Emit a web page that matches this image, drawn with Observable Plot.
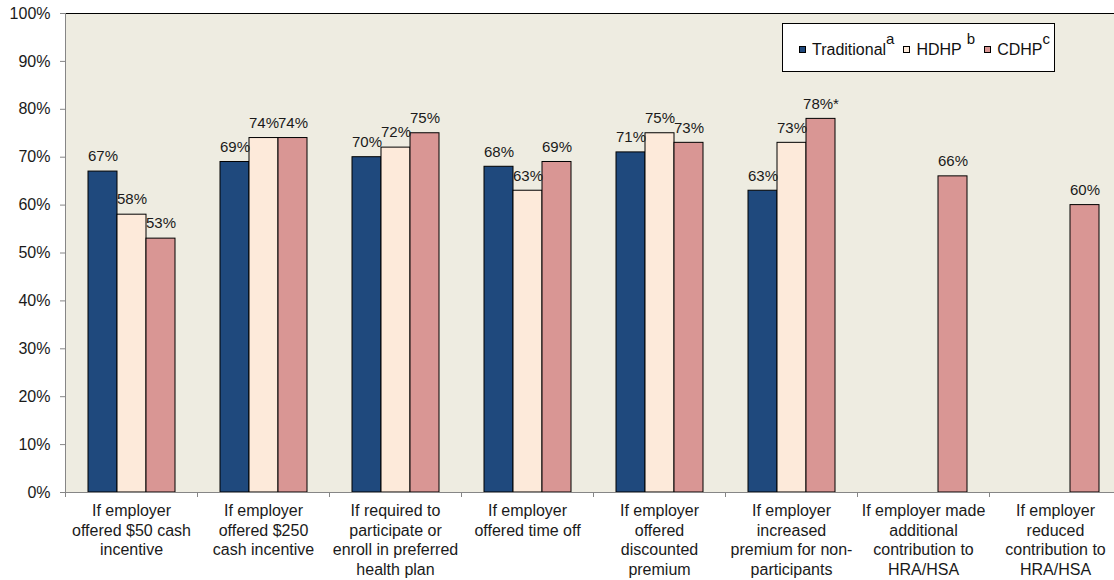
<!DOCTYPE html>
<html><head><meta charset="utf-8">
<script src="https://cdn.jsdelivr.net/npm/d3@7"></script>
<script src="https://cdn.jsdelivr.net/npm/@observablehq/plot@0.6"></script>
<style>
html,body{margin:0;padding:0;background:#fff;overflow:hidden;width:1114px;height:580px}
#chart{position:relative;width:1114px;height:580px;overflow:hidden}
#chart svg{max-width:none !important;display:block}
#legend{position:absolute;left:782px;top:23px;width:273px;height:49px;box-sizing:border-box;border:1px solid #000;background:#fff;display:flex;align-items:center;padding-left:16px;padding-top:4px;font:16px "Liberation Sans",Arial,sans-serif;color:#111;white-space:nowrap}
#legend .item{display:flex;align-items:center;margin-right:9px}
#legend .sw{width:7px;height:7px;box-sizing:border-box;border:1px solid #000;margin-right:6px}
#legend sup{font-size:15px;line-height:1;position:relative;top:-11px;margin-left:0px}
</style></head><body><div id="chart"></div><script>
const categories = ["cash50","cash250","required","timeoff","discount","increased","additional","reduced"];
const categoryLabels = [
  "If employer\noffered $50 cash\nincentive",
  "If employer\noffered $250\ncash incentive",
  "If required to\nparticipate or\nenroll in preferred\nhealth plan",
  "If employer\noffered time off",
  "If employer\noffered\ndiscounted\npremium",
  "If employer\nincreased\npremium for non-\nparticipants",
  "If employer made\nadditional\ncontribution to\nHRA/HSA",
  "If employer\nreduced\ncontribution to\nHRA/HSA"
];
const series = ["Traditional","HDHP","CDHP"];
const seriesNotes = ["a","b","c"];
const seriesColors = ["#1F497D","#FDEADA","#D99694"];
const traditional = [67,69,70,68,71,63,null,null];
const hdhp = [58,74,72,63,75,73,null,null];
const cdhp = [53,74,75,69,73,78,66,60];
const cdhpStar = [false,false,false,false,false,true,false,false];
const yTicks = [0,10,20,30,40,50,60,70,80,90,100];

const bg = "#EEECE1";
const gray = "#868686";
const ink = "#1a1a1a";
const font = '"Liberation Sans", Arial, sans-serif';

const seriesValues = [traditional, hdhp, cdhp];
const rows = [];
categories.forEach((c, i) => {
  series.forEach((s, j) => {
    const v = seriesValues[j][i];
    if (v == null) return;
    const star = s === "CDHP" && cdhpStar[i] ? "*" : "";
    rows.push({category: c, series: s, value: v, label: v + "%" + star});
  });
});
const labelOf = new Map(categories.map((c, i) => [c, categoryLabels[i]]));

function groupTicks(index, scales, values, dimensions) {
  const [x0, x1] = scales.x.range();
  const y0 = scales.y(0);
  const g = d3.create("svg:g").attr("stroke", gray).attr("stroke-width", 1);
  for (const x of [x0, x1]) {
    g.append("line").attr("x1", x + 0.5).attr("x2", x + 0.5).attr("y1", y0).attr("y2", y0 + 5);
  }
  return g.node();
}

const chart = Plot.plot({
  width: 1121,
  height: 580,
  marginLeft: 65,
  marginRight: 0,
  marginTop: 13,
  marginBottom: 88,
  style: {fontFamily: font, fontSize: "16px", color: ink, background: "transparent", maxWidth: "none", overflow: "visible"},
  fx: {domain: categories, padding: 0, label: null},
  x: {domain: series, paddingInner: 0, paddingOuter: 0.7425, axis: null},
  y: {domain: [0, 100], label: null},
  color: {domain: series, range: seriesColors},
  marks: [
    Plot.frame({fill: bg, insetRight: -1.5, shapeRendering: "crispEdges"}),
    Plot.ruleY([100], {stroke: "#000", insetRight: -1}),
    Plot.barY(rows, {fx: "category", x: "series", y: "value", fill: "series", stroke: "#000", strokeWidth: 1}),
    Plot.text(rows, {fx: "category", x: "series", y: "value", text: "label", dy: -15, fontSize: 15, fill: ink}),
    Plot.ruleY([0], {stroke: gray, insetRight: -1}),
    Plot.frame({anchor: "left", stroke: gray, facetAnchor: "left"}),
    Plot.frame({stroke: "none", fill: "none", render: groupTicks}),
    Plot.axisY({ticks: yTicks, tickFormat: d => d + "%", tickSize: 5, tickPadding: 10, stroke: gray, fill: ink, fontSize: 16, label: null}),
    Plot.axisFx({anchor: "bottom", tickSize: 0, tickPadding: 10, fontSize: 16, lineHeight: 1.22, fill: ink, tickFormat: d => labelOf.get(d), label: null})
  ]
});
const holder = document.getElementById("chart");
holder.appendChild(chart);

const legend = document.createElement("div");
legend.id = "legend";
series.forEach((s, i) => {
  const item = document.createElement("div");
  item.className = "item";
  const sw = document.createElement("span");
  sw.className = "sw";
  sw.style.background = seriesColors[i];
  const t = document.createElement("span");
  t.textContent = s;
  const sup = document.createElement("sup");
  sup.textContent = seriesNotes[i];
  if (i === 1) sup.style.marginLeft = "5px";
  item.append(sw, t, sup);
  legend.appendChild(item);
});
holder.appendChild(legend);
</script></body></html>
